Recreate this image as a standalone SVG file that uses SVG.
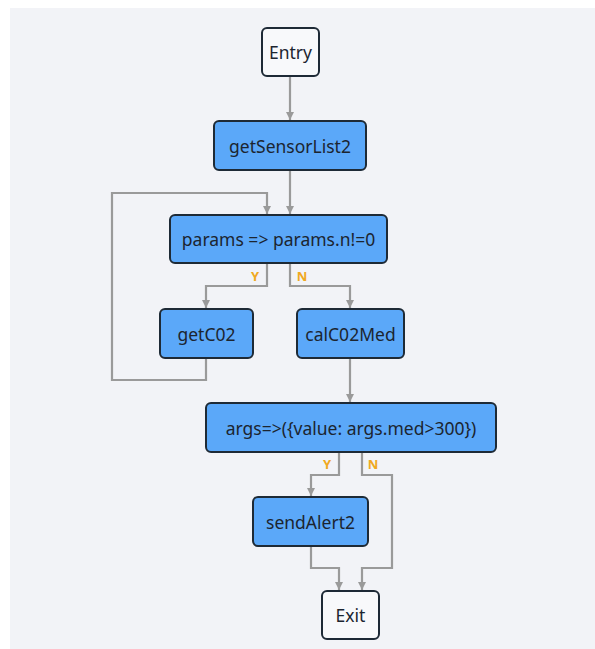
<svg xmlns="http://www.w3.org/2000/svg" width="595" height="649" viewBox="0 0 595 649">
  <style>
    .box { stroke: #1e2a36; stroke-width: 2; }
    .task { fill: #5ba8f9; }
    .term { fill: #f8f9fb; }
    .lbl { font-family: "Noto Sans", "Open Sans", sans-serif; font-size: 17.5px; fill: #1c2530; text-anchor: middle; dominant-baseline: central; }
    .edge { fill: none; stroke: #9a9a9a; stroke-width: 2.2; marker-end: url(#arrow); }
    .cond { font-family: "Noto Sans", "Open Sans", sans-serif; font-size: 13px; font-weight: bold; fill: #f0a820; text-anchor: middle; }
  </style>
  <defs>
    <marker id="arrow" viewBox="0 0 10 10" refX="10" refY="5" markerWidth="8" markerHeight="10" orient="auto" markerUnits="userSpaceOnUse">
      <path d="M0,0 L10,5 L0,10 z" fill="#9a9a9a"/>
    </marker>
  </defs>
  <rect x="0" y="0" width="595" height="649" fill="#ffffff"/>
  <rect x="10" y="8" width="585" height="641" fill="#f2f3f7"/>

  <g id="connectors">
    <path class="edge" d="M290,77 V120"/>
    <path class="edge" d="M290,171 V214"/>
    <path class="edge" d="M267,264 V286 H206 V308"/>
    <path class="edge" d="M290,264 V286 H350 V308"/>
    <path class="edge" d="M206,359 V380 H112 V193 H267 V214"/>
    <path class="edge" d="M350,359 V402"/>
    <path class="edge" d="M339,453 V475 H311 V496"/>
    <path class="edge" d="M362,453 V475 H392 V568 H362 V590"/>
    <path class="edge" d="M311,547 V568 H339 V590"/>
    <text class="cond" x="255" y="281">Y</text>
    <text class="cond" x="302" y="281">N</text>
    <text class="cond" x="327" y="469">Y</text>
    <text class="cond" x="373" y="469">N</text>
  </g>

  <g id="entry">
    <rect class="box term" x="262" y="28" width="57" height="48" rx="5"/>
    <text class="lbl" x="290.5" y="52">Entry</text>
  </g>
  <g id="getSensorList2">
    <rect class="box task" x="214" y="121" width="152" height="49" rx="5"/>
    <text class="lbl" x="290" y="145.5">getSensorList2</text>
  </g>
  <g id="params">
    <rect class="box task" x="170" y="215" width="217" height="48" rx="5"/>
    <text class="lbl" x="278.5" y="239">params =&gt; params.n!=0</text>
  </g>
  <g id="getC02">
    <rect class="box task" x="160" y="309" width="93" height="49" rx="5"/>
    <text class="lbl" x="206.5" y="333.5">getC02</text>
  </g>
  <g id="calC02Med">
    <rect class="box task" x="297" y="309" width="107" height="49" rx="5"/>
    <text class="lbl" x="350.5" y="333.5">calC02Med</text>
  </g>
  <g id="args">
    <rect class="box task" x="206" y="403" width="290" height="49" rx="5"/>
    <text class="lbl" x="351" y="427.5">args=&gt;({value: args.med&gt;300})</text>
  </g>
  <g id="sendAlert2">
    <rect class="box task" x="253" y="497" width="115" height="49" rx="5"/>
    <text class="lbl" x="310.5" y="521.5">sendAlert2</text>
  </g>
  <g id="exit">
    <rect class="box term" x="322" y="591" width="57" height="48" rx="5"/>
    <text class="lbl" x="350.5" y="615">Exit</text>
  </g>
</svg>
